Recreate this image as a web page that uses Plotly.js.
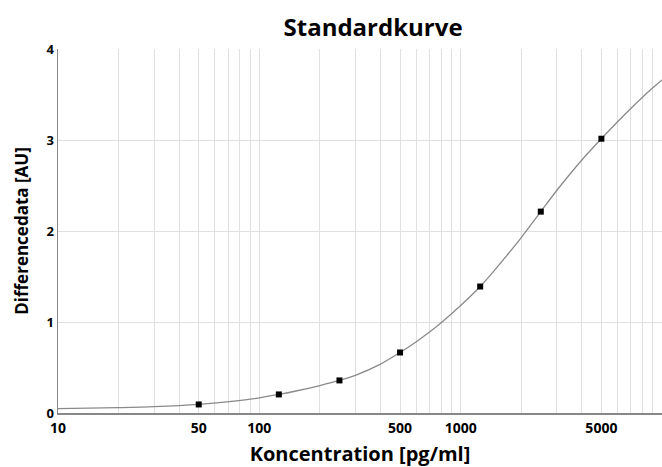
<!DOCTYPE html>
<html>
<head>
<meta charset="utf-8">
<script src="https://cdn.plot.ly/plotly-3.0.1.min.js"></script>
<style>html,body{margin:0;padding:0;background:#fff;}#chart{width:662px;height:467px;}</style>
</head>
<body>
<div id="chart"></div>
<script>
// Standard points
const stdConc = [50, 125, 250, 500, 1250, 2500, 5000];
const stdSignal = [0.094, 0.204, 0.358, 0.665, 1.39, 2.213, 3.014];

// Fitted curve
const curveConc = [10, 20, 30, 50, 75, 100, 125, 150, 200, 250, 300, 400, 500, 600, 700, 800, 1000, 1250, 1500, 2000, 2500, 3000, 4000, 5000, 6000, 7000, 8000, 9000, 10000];
const curveSignal = [0.047, 0.059, 0.069, 0.094, 0.13, 0.167, 0.204, 0.239, 0.302, 0.358, 0.414, 0.537, 0.665, 0.78, 0.889, 0.992, 1.181, 1.39, 1.59, 1.928, 2.213, 2.445, 2.78, 3.014, 3.198, 3.347, 3.47, 3.573, 3.66];

// Axis ticks
const gridVals = [10,20,30,40,50,60,70,80,90,100,200,300,400,500,600,700,800,900,1000,2000,3000,4000,5000,6000,7000,8000,9000,10000];
const labelVals = [10, 50, 100, 500, 1000, 5000];
const yTicks = [0, 1, 2, 3, 4];

const gridText = gridVals.map(v => labelVals.includes(v) ? String(v) : '');

const FONT = 'Open Sans, Noto Sans, sans-serif';

const traces = [
  {
    x: curveConc, y: curveSignal, type: 'scatter', mode: 'lines',
    line: {color: '#8a8a8a', width: 1.3, shape: 'spline', smoothing: 0.8},
    hoverinfo: 'skip', showlegend: false
  },
  {
    x: stdConc, y: stdSignal, type: 'scatter', mode: 'markers',
    marker: {symbol: 'square', size: 6, color: '#000'},
    showlegend: false
  }
];

const layout = {
  width: 662, height: 467,
  margin: {l: 58, r: 0, t: 49, b: 54},
  paper_bgcolor: '#fff', plot_bgcolor: '#fff',
  font: {family: FONT, color: '#000'},
  title: {
    text: 'Standardkurve',
    font: {family: FONT, size: 24, weight: 700, color: '#000'},
    xref: 'container', x: 0.5635, xanchor: 'center',
    yref: 'container', y: 0.94, yanchor: 'middle'
  },
  xaxis: {
    type: 'log', range: [1, 4],
    tickmode: 'array', tickvals: gridVals, ticktext: gridText,
    tickfont: {family: FONT, size: 14, weight: 700, color: '#000'},
    ticklabelstandoff: 2,
    showgrid: true, gridcolor: '#e0e0e0', gridwidth: 1,
    showline: true, linecolor: '#888', linewidth: 1.5,
    ticks: '', zeroline: false,
    title: {text: 'Koncentration [pg/ml]', font: {family: FONT, size: 20, weight: 700, color: '#000'}, standoff: 11}
  },
  yaxis: {
    range: [0, 4],
    tickmode: 'array', tickvals: yTicks,
    tickfont: {family: FONT, size: 13, weight: 700, color: '#000'},
    showgrid: true, gridcolor: '#e0e0e0', gridwidth: 1,
    showline: true, linecolor: '#888', linewidth: 1.5,
    ticks: '', zeroline: false,
    title: {text: 'Differencedata [AU]', font: {family: FONT, size: 17, weight: 700, color: '#000'}, standoff: 13}
  }
};

Plotly.newPlot('chart', traces, layout, {displayModeBar: false, staticPlot: true});
</script>
</body>
</html>
